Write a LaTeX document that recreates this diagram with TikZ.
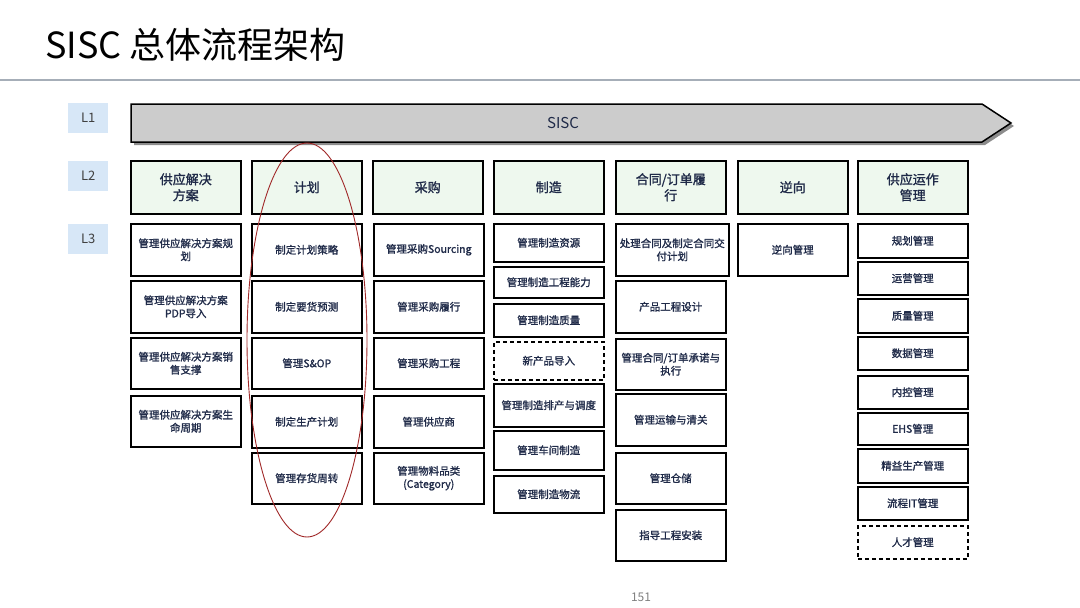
\documentclass[tikz,border=0pt]{standalone}
\usepackage{fontspec}
\setmainfont{Noto Sans CJK SC}
\newfontfamily\cjkb[FakeBold=1.3]{Noto Sans CJK SC}
\definecolor{navy}{HTML}{1F2A48}
\definecolor{mint}{HTML}{EEF8EE}
\definecolor{lblue}{HTML}{D7E7F7}
\definecolor{rule}{HTML}{A6AEB8}
\definecolor{ellred}{HTML}{A02828}
\begin{document}
\begin{tikzpicture}[x=1pt,y=-1pt,
  lvl/.style={fill=lblue, minimum width=40pt, minimum height=30pt, anchor=north west, inner sep=0, text=black!75, font=\fontsize{13}{14}\selectfont},
  ltwo/.style={draw, line width=1.5pt, fill=mint, minimum width=110pt, minimum height=53pt, anchor=north west, inner sep=0, text width=100pt, align=center, text=navy, font=\cjkb\fontsize{13}{16}\selectfont},
  lthree/.style={draw, line width=1.5pt, minimum width=110pt, anchor=north west, inner sep=0, text width=108pt, align=center, text=navy, font=\cjkb\fontsize{10.5}{13}\selectfont},
  dbox/.style={lthree, dashed, dash pattern=on 4pt off 3pt}
]
\useasboundingbox (0,0) rectangle (1080,608);
% title
\node[anchor=base west, inner sep=0, font=\fontsize{36}{40}\selectfont] (title) at (45,58) {SISC 总体流程架构};
\coordinate (rl) at (0,80);
\coordinate (rr) at (1080,80);
\draw[rule, line width=2.5pt] (rl) -- (rr);
% level labels
\node[lvl] (L1) at (68,103) {L1};
\node[lvl] (L2) at (68,161) {L2};
\node[lvl] (L3) at (68,224) {L3};
% L1 arrow
\fill[black!45] (134,107) -- (985,107) -- (1014,126) -- (985,145) -- (134,145) -- cycle;
\draw[line width=1.5pt, fill=gray!40] (131,104) -- (982,104) -- (1011,123) -- (982,142) -- (131,142) -- cycle;
\node[font=\fontsize{15}{16}\selectfont, text=navy] (sisc) at (563,123) {SISC};
% L2
\node[ltwo] (p1) at (130,160) {供应解决\\方案};
\node[ltwo] (p2) at (251,160) {计划};
\node[ltwo] (p3) at (372,160) {采购};
\node[ltwo] (p4) at (493,160) {制造};
\node[ltwo] (p5) at (615,160) {合同/订单履\\行};
\node[ltwo] (p6) at (737,160) {逆向};
\node[ltwo] (p7) at (857,160) {供应运作\\管理};
% column 1
\node[lthree, minimum height=52pt] (a1) at (130,223) {管理供应解决方案规\\划};
\node[lthree, minimum height=52pt] (a2) at (130,280) {管理供应解决方案\\PDP导入};
\node[lthree, minimum height=51pt] (a3) at (130,337) {管理供应解决方案销\\售支撑};
\node[lthree, minimum height=51pt] (a4) at (130,395) {管理供应解决方案生\\命周期};
% column 2
\node[lthree, minimum height=52pt] (b1) at (251,223) {制定计划策略};
\node[lthree, minimum height=52pt] (b2) at (251,280) {制定要货预测};
\node[lthree, minimum height=51pt] (b3) at (251,337) {管理S\&OP};
\node[lthree, minimum height=52pt] (b4) at (251,395) {制定生产计划};
\node[lthree, minimum height=51pt] (b5) at (251,452) {管理存货周转};
% column 3
\node[lthree, minimum height=52pt] (c1) at (373,223) {管理采购Sourcing};
\node[lthree, minimum height=52pt] (c2) at (373,280) {管理采购履行};
\node[lthree, minimum height=51pt] (c3) at (373,337) {管理采购工程};
\node[lthree, minimum height=52pt] (c4) at (373,395) {管理供应商};
\node[lthree, minimum height=51pt] (c5) at (373,452) {管理物料品类\\(Category)};
% column 4
\node[lthree, minimum height=38pt] (d1) at (493,223) {管理制造资源};
\node[lthree, minimum height=31pt] (d2) at (493,266) {管理制造工程能力};
\node[lthree, minimum height=33pt] (d3) at (493,303) {管理制造质量};
\node[dbox, minimum height=38pt] (d4) at (493,341) {新产品导入};
\node[lthree, minimum height=43pt] (d5) at (493,383) {管理制造排产与调度};
\node[lthree, minimum height=39pt] (d6) at (493,430) {管理车间制造};
\node[lthree, minimum height=37pt] (d7) at (493,475) {管理制造物流};
% column 5
\node[lthree, minimum height=52pt, minimum width=113pt, text width=113pt] (e1) at (615,223) {处理合同及制定合同交\\付计划};
\node[lthree, minimum height=52pt] (e2) at (615,280) {产品工程设计};
\node[lthree, minimum height=51pt] (e3) at (615,338) {管理合同/订单承诺与\\执行};
\node[lthree, minimum height=52pt] (e4) at (615,393) {管理运输与清关};
\node[lthree, minimum height=51pt] (e5) at (615,452) {管理仓储};
\node[lthree, minimum height=51pt] (e6) at (615,509) {指导工程安装};
% column 6
\node[lthree, minimum height=52pt] (f1) at (737,223) {逆向管理};
% column 7
\node[lthree, minimum height=34pt] (g1) at (857,223) {规划管理};
\node[lthree, minimum height=33pt] (g2) at (857,261) {运营管理};
\node[lthree, minimum height=34pt] (g3) at (857,298) {质量管理};
\node[lthree, minimum height=33pt] (g4) at (857,336) {数据管理};
\node[lthree, minimum height=33pt] (g5) at (857,375) {内控管理};
\node[lthree, minimum height=32pt] (g6) at (857,412) {EHS管理};
\node[lthree, minimum height=34pt] (g7) at (857,448) {精益生产管理};
\node[lthree, minimum height=33pt] (g8) at (857,486) {流程IT管理};
\node[dbox, minimum height=33pt] (g9) at (857,525) {人才管理};
% red ellipse around planning
\draw[ellred, line width=0.9pt] (307,340) ellipse [x radius=60, y radius=197];
% page number
\node[text=black!50, font=\fontsize{12}{13}\selectfont] (pg) at (641,597) {151};
\end{tikzpicture}
\end{document}
